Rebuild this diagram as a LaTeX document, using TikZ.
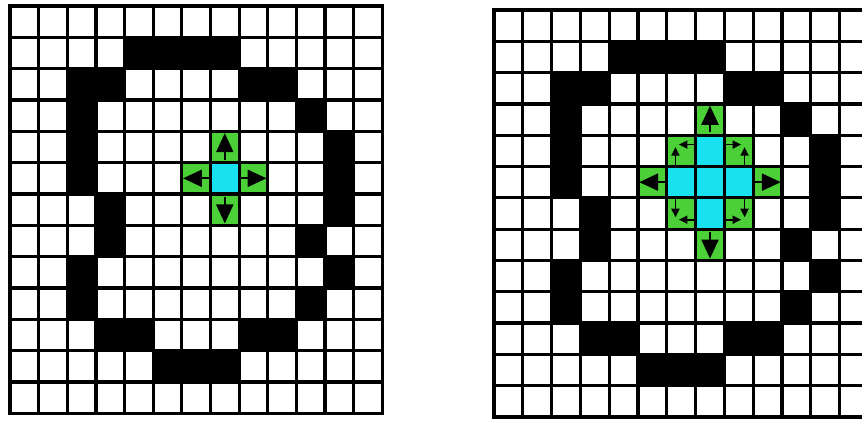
\documentclass[tikz,border=0pt]{standalone}
\usetikzlibrary{arrows.meta}
\definecolor{wavegreen}{RGB}{76, 208, 56}
\definecolor{seedcyan}{RGB}{24, 226, 240}
\newcommand{\wallcells}{4/1,5/1,6/1,7/1, 2/2,3/2,8/2,9/2, 2/3,10/3, 2/4,11/4,
    2/5,11/5, 3/6,11/6, 3/7,10/7, 2/8,11/8, 2/9,10/9, 3/10,4/10,8/10,9/10,
    5/11,6/11,7/11}

\begin{document}
\begin{tikzpicture}[x=1pt, y=1pt,
        wall/.style={fill=black},
        front/.style={fill=wavegreen},
        seed/.style={fill=seedcyan},
        gridline/.style={line width=3.2pt, line cap=rect},
        bigarrow/.style={line width=2.2pt, -{Triangle[length=19pt, width=17pt]}},
        smallarrow/.style={line width=1.6pt, -{Triangle[length=8.5pt, width=8pt]}}
    ]
    \useasboundingbox (0,0) rectangle (862,-421);
    \clip (0,0) rectangle (862,-421);

    % first step
    \begin{scope}[shift={(10pt,-6pt)}, x=28.64pt, y=-31.33pt]
        \foreach \c/\r in \wallcells
            \fill[wall] (\c,\r) rectangle ++(1,1);
        \foreach \c/\r in {7/4, 6/5, 8/5, 7/6}
            \fill[front] (\c,\r) rectangle ++(1,1);
        \fill[seed] (7,5) rectangle ++(1,1);
        \foreach \i in {0,...,13} {
            \draw[gridline] (\i,0) -- (\i,13);
            \draw[gridline] (0,\i) -- (13,\i);
        }
        \draw[bigarrow] (7.5,4.9) -- (7.5,4.06);
        \draw[bigarrow] (7.5,6.1) -- (7.5,6.94);
        \draw[bigarrow] (7,5.5) -- (6.04,5.5);
        \draw[bigarrow] (8,5.5) -- (8.96,5.5);
    \end{scope}

    % second step
    \begin{scope}[shift={(494pt,-10pt)}, x=28.8pt, y=-31.3pt]
        \foreach \c/\r in \wallcells
            \fill[wall] (\c,\r) rectangle ++(1,1);
        \foreach \c/\r in {7/3, 5/5, 9/5, 7/7, 6/4, 8/4, 6/6, 8/6}
            \fill[front] (\c,\r) rectangle ++(1,1);
        \foreach \c/\r in {7/4, 6/5, 7/5, 8/5, 7/6}
            \fill[seed] (\c,\r) rectangle ++(1,1);
        \foreach \i in {0,...,13} {
            \draw[gridline] (\i,0) -- (\i,13);
            \draw[gridline] (0,\i) -- (13,\i);
        }
        \draw[bigarrow] (7.5,3.9) -- (7.5,3.06);
        \draw[bigarrow] (7.5,7.1) -- (7.5,7.94);
        \draw[bigarrow] (6,5.5) -- (5.04,5.5);
        \draw[bigarrow] (9,5.5) -- (9.96,5.5);
        % diagonal cells
        \draw[smallarrow] (7,4.3) -- (6.42,4.3);
        \draw[smallarrow] (6.3,5) -- (6.3,4.38);
        \draw[smallarrow] (8,4.3) -- (8.58,4.3);
        \draw[smallarrow] (8.7,5) -- (8.7,4.38);
        \draw[smallarrow] (6.3,6) -- (6.3,6.62);
        \draw[smallarrow] (7,6.7) -- (6.42,6.7);
        \draw[smallarrow] (8.7,6) -- (8.7,6.62);
        \draw[smallarrow] (8,6.7) -- (8.58,6.7);
    \end{scope}
\end{tikzpicture}
\end{document}
